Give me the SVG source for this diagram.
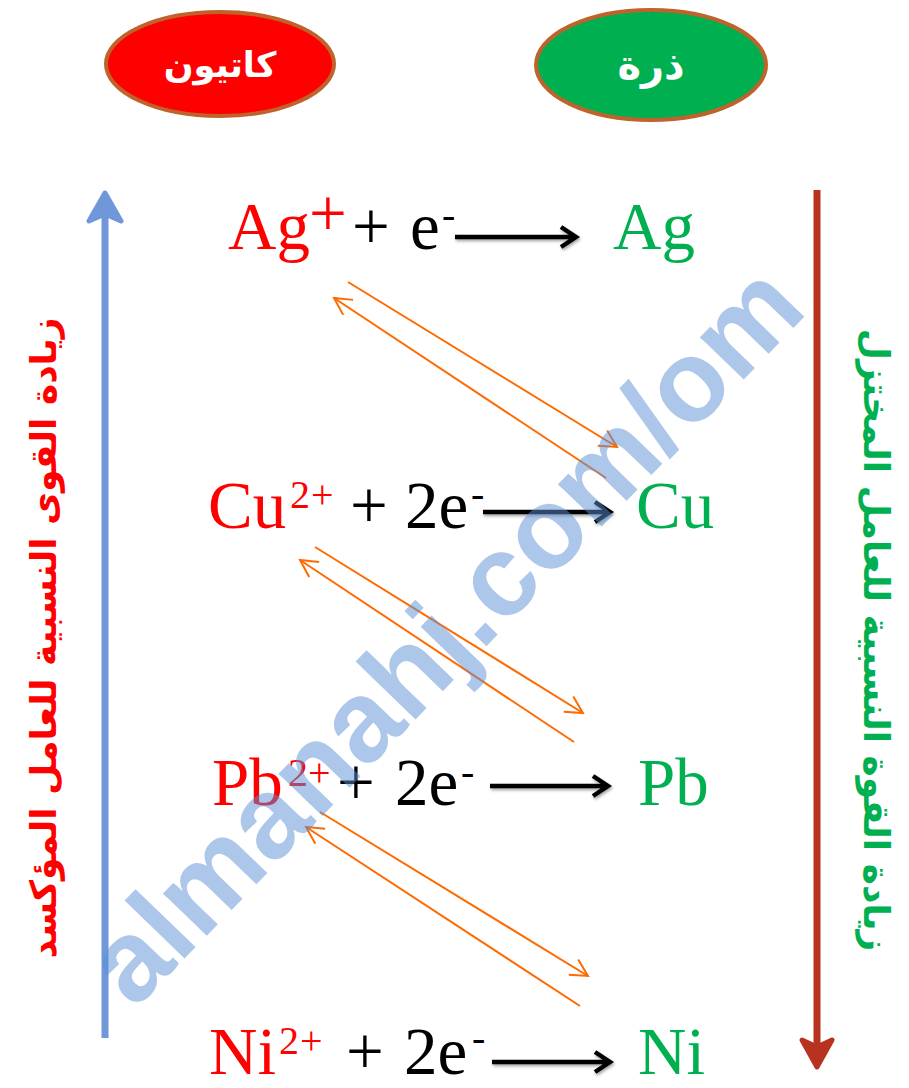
<svg xmlns="http://www.w3.org/2000/svg" width="909" height="1088" viewBox="0 0 909 1088">
<style>
.eq{font-family:"Liberation Serif","Times New Roman",serif;font-size:67px}
.sup{font-family:"Liberation Serif","Times New Roman",serif;font-size:40px}
.red{fill:#FF0000}
.grn{fill:#00B050}
.blk{fill:#000000}
.ar{font-family:"DejaVu Sans",sans-serif;font-weight:bold}
.or{stroke:#FF6A00;stroke-width:2;fill:none;marker-end:url(#oh)}
.bl{stroke:#000;stroke-width:4.5;fill:none;filter:url(#sh)}
</style>
<defs>
<marker id="oh" viewBox="0 0 20 20" refX="18" refY="10" markerWidth="20" markerHeight="20" orient="auto" markerUnits="userSpaceOnUse">
<path d="M1,1 L18,10 L1,19" fill="none" stroke="#FF6A00" stroke-width="2"/>
</marker>
<filter id="sh" x="-10%" y="-50%" width="120%" height="250%">
<feDropShadow dx="1" dy="2" stdDeviation="1.5" flood-color="#000" flood-opacity="0.35"/>
</filter>
</defs>
<rect width="909" height="1088" fill="#FFFFFF"/>

<g id="node-cation">
<ellipse cx="220" cy="64" rx="114" ry="52" fill="#FF0000" stroke="#C0622B" stroke-width="4"/>
<text class="ar" x="220" y="77" font-size="35" fill="#FFFFFF" text-anchor="middle">كاتيون</text>
</g>
<g id="node-atom">
<ellipse cx="651" cy="65" rx="115" ry="55" fill="#00B050" stroke="#C0622B" stroke-width="4"/>
<text class="ar" x="651" y="79" font-size="40" fill="#FFFFFF" text-anchor="middle">ذرة</text>
</g>

<g id="label-left">
<text class="ar" transform="translate(56,638) rotate(-90)" font-size="36" fill="#FF0000" text-anchor="middle">زيادة القوى النسبية  للعامل المؤكسد</text>
</g>
<g id="label-right">
<text class="ar" transform="translate(864,640) rotate(90)" font-size="36" fill="#00B050" text-anchor="middle">زيادة القوة  النسبية للعامل المختزل</text>
</g>

<g id="eq-ag">
<text class="eq red" x="228" y="249">Ag</text>
<text class="eq red" x="309" y="236" font-size="48">+</text>
<text class="eq blk" x="352" y="249">+</text>
<text class="eq blk" x="410" y="249">e</text>
<text class="sup blk" x="442" y="228">-</text>
<text class="eq grn" x="613" y="249">Ag</text>
</g>
<g id="eq-cu">
<text class="eq red" x="208" y="528">Cu</text>
<text class="sup red" x="290" y="508" letter-spacing="1">2+</text>
<text class="eq blk" x="350" y="528">+</text>
<text class="eq blk" x="405" y="528">2e</text>
<text class="sup blk" x="471" y="507">-</text>
<text class="eq grn" x="636" y="528">Cu</text>
</g>
<g id="eq-pb">
<text class="eq red" x="212" y="805">Pb</text>
<text class="sup red" x="288" y="786" font-size="41">2+</text>
<text class="eq blk" x="337" y="805">+</text>
<text class="eq blk" x="395" y="805">2e</text>
<text class="sup blk" x="461" y="785">-</text>
<text class="eq grn" x="638" y="805">Pb</text>
</g>
<g id="eq-ni">
<text class="eq red" x="209" y="1074">Ni</text>
<text class="sup red" x="279" y="1054" letter-spacing="1">2+</text>
<text class="eq blk" x="346" y="1074">+</text>
<text class="eq blk" x="404" y="1074">2e</text>
<text class="sup blk" x="472" y="1051">-</text>
<text class="eq grn" x="638" y="1074">Ni</text>
</g>

<g id="connectors">
<g id="reaction-arrows">
<path class="bl" d="M455,237 H574 M561,227 L576,237 L561,247"/>
<path class="bl" d="M483,512 H608 M595,502 L610,512 L595,522"/>
<path class="bl" d="M490,786 H606 M593,776 L608,786 L593,796"/>
<path class="bl" d="M492,1062 H608 M595,1052 L610,1062 L595,1072"/>
</g>
<g id="electron-flow">
<line class="or" x1="348" y1="282" x2="617" y2="447"/>
<line class="or" x1="606" y1="478" x2="334" y2="298"/>
<line class="or" x1="315" y1="547" x2="583" y2="713"/>
<line class="or" x1="574" y1="742" x2="300" y2="560"/>
<line class="or" x1="320" y1="812" x2="588" y2="976"/>
<line class="or" x1="580" y1="1006" x2="306" y2="827"/>
</g>
<g id="side-arrows">
<line x1="105" y1="1038" x2="105" y2="210" stroke="#6F97D9" stroke-width="7"/>
<path d="M105,193 L121,221 L105,214 L89,221 Z" fill="#6F97D9" stroke="#6F97D9" stroke-width="5" stroke-linejoin="round"/>
<line x1="817" y1="190" x2="817" y2="1050" stroke="#B7321F" stroke-width="7"/>
<path d="M817,1067 L832,1040 L817,1047 L802,1040 Z" fill="#B7321F" stroke="#B7321F" stroke-width="5" stroke-linejoin="round"/>
</g>
</g>

<text transform="translate(472,661) rotate(-46)" text-anchor="middle" font-family="Liberation Sans, Arial, sans-serif" font-weight="bold" font-size="115" fill="#5B8FD5" fill-opacity="0.5">almanahj.com/om</text>
</svg>
